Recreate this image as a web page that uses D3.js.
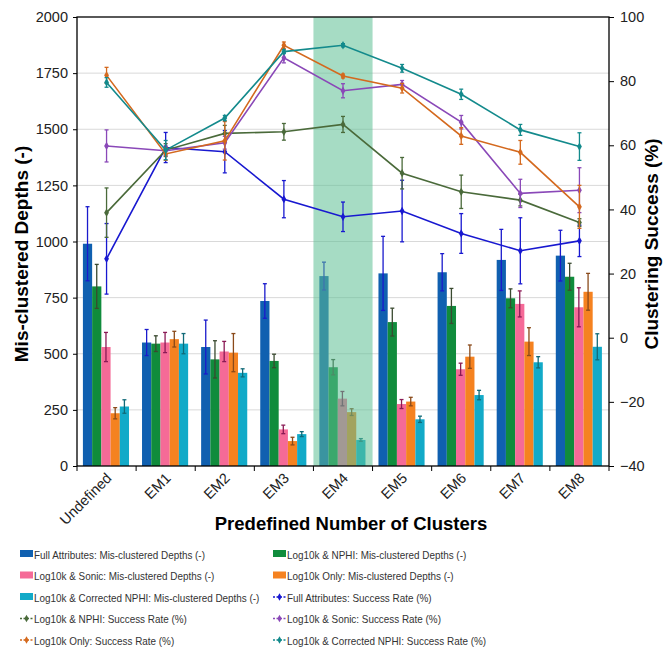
<!DOCTYPE html>
<html lang="en">
<head>
  <meta charset="UTF-8" />
  <script src="https://d3js.org/d3.v7.min.js"></script>
  <title>Clustering</title>
  <style>
    body { margin: 0; background: #fff; }
    text { font-family: "Liberation Sans", Arial, sans-serif; }
  </style>
</head>
<body>
<script type="text/javascript">
	var width = 666; var height = 650;
	var margin = {top: 17, right: 57, bottom: 184, left: 77};

	var categories = ["Undefined", "EM1", "EM2", "EM3", "EM4", "EM5", "EM6", "EM7", "EM8"];
	var leftTicks = [0, 250, 500, 750, 1000, 1250, 1500, 1750, 2000];
	var rightTicks = [-40, -20, 0, 20, 40, 60, 80, 100];
	var highlighted = "EM4";

	// mis-clustered depths (left axis) with error half-widths
	var fullDepths = [990, 550, 530, 735, 846, 858, 863, 918, 937];
	var fullDepthsErr = [165, 58, 120, 77, 62, 165, 83, 136, 113];
	var nphiDepths = [800, 545, 475, 468, 440, 641, 713, 747, 843];
	var nphiDepthsErr = [98, 35, 83, 30, 34, 62, 78, 42, 60];
	var sonicDepths = [530, 550, 510, 163, 300, 276, 431, 722, 707];
	var sonicDepthsErr = [65, 45, 45, 19, 32, 20, 27, 58, 87];
	var onlyDepths = [235, 565, 505, 111, 240, 287, 487, 554, 776];
	var onlyDepthsErr = [25, 35, 85, 17, 15, 19, 52, 62, 82];
	var corrDepths = [265, 545, 415, 142, 116, 208, 316, 462, 531];
	var corrDepthsErr = [30, 45, 18, 11, 6, 14, 21, 25, 58];

	// success rate (right axis, %)
	var fullRate = [24.6, 59.3, 58, 43.2, 37.7, 39.5, 32.5, 27.1, 30.2];
	var fullRateErr = [11, 4.7, 6.6, 5.8, 4.6, 9.6, 6.2, 10.3, 4.9];
	var nphiRate = [39, 58.5, 63.7, 64.2, 66.5, 51.3, 45.5, 42.9, 35.9];
	var nphiRateErr = [7.7, 2, 2.5, 2.6, 2.5, 4.9, 5.2, 1.8, 1.2];
	var sonicRate = [59.8, 58.3, 60.8, 87.3, 77, 79, 67.2, 45, 46];
	var sonicRateErr = [5, 1.5, 2, 1.6, 2.2, 1.2, 2.1, 4.4, 7];
	var onlyRate = [81.8, 57.3, 61.4, 91.2, 81.6, 77.8, 62.9, 57.8, 40.8];
	var onlyRateErr = [2.5, 2, 6, 1, 0.6, 1.5, 2.6, 3.7, 6.7];
	var corrRate = [79.6, 58.5, 68.5, 89.2, 91.2, 84, 75.9, 64.8, 59.6];
	var corrRateErr = [1.5, 3, 0.8, 0.6, 0.5, 1.2, 1.6, 1.7, 4.3];

	var barSeries = [
		{name: "Full Attributes: Mis-clustered Depths (-)", v: fullDepths, e: fullDepthsErr, fill: "#1060b0", err: "#1a1acc"},
		{name: "Log10k & NPHI: Mis-clustered Depths (-)", v: nphiDepths, e: nphiDepthsErr, fill: "#108c3c", err: "#3a4a30"},
		{name: "Log10k & Sonic: Mis-clustered Depths (-)", v: sonicDepths, e: sonicDepthsErr, fill: "#f56a97", err: "#8a1a55"},
		{name: "Log10k Only: Mis-clustered Depths (-)", v: onlyDepths, e: onlyDepthsErr, fill: "#f58220", err: "#8a4a1a"},
		{name: "Log10k & Corrected NPHI: Mis-clustered Depths (-)", v: corrDepths, e: corrDepthsErr, fill: "#12aac8", err: "#106a78"}
	];
	var lineSeries = [
		{name: "Full Attributes: Success Rate (%)", v: fullRate, e: fullRateErr, color: "#1818d0"},
		{name: "Log10k & NPHI: Success Rate (%)", v: nphiRate, e: nphiRateErr, color: "#4a6a3a"},
		{name: "Log10k & Sonic: Success Rate (%)", v: sonicRate, e: sonicRateErr, color: "#8a48b8"},
		{name: "Log10k Only: Success Rate (%)", v: onlyRate, e: onlyRateErr, color: "#d4691e"},
		{name: "Log10k & Corrected NPHI: Success Rate (%)", v: corrRate, e: corrRateErr, color: "#138a8c"}
	];

	var svg = d3.select("body").append("svg").attr("width", width).attr("height", height);
	var pw = width - margin.left - margin.right;
	var ph = height - margin.top - margin.bottom;
	var g = svg.append("g").attr("transform", "translate(" + margin.left + "," + margin.top + ")");

	var x = d3.scaleBand().domain(categories).range([0, pw]).paddingInner(0).paddingOuter(0);
	var xb = d3.scaleBand().domain(d3.range(barSeries.length)).range([x.bandwidth() * 0.1, x.bandwidth() * 0.88]);
	var yL = d3.scaleLinear().domain([0, 2000]).range([ph, 0]);
	var yR = d3.scaleLinear().domain([-40, 100]).range([ph, 0]);

	// gridlines
	g.append("g").selectAll("line").data(leftTicks.slice(1, -1)).enter().append("line")
		.attr("x1", 0).attr("x2", pw).attr("y1", yL).attr("y2", yL)
		.attr("stroke", "#d9d9d9").attr("stroke-width", 1);

	// bars
	barSeries.forEach(function(s, si) {
		var bg = g.append("g");
		bg.selectAll("rect").data(s.v).enter().append("rect")
			.attr("x", function(d, i){ return x(categories[i]) + xb(si); })
			.attr("y", function(d){ return yL(d); })
			.attr("width", xb.bandwidth())
			.attr("height", function(d){ return ph - yL(d); })
			.attr("fill", s.fill);
		s.v.forEach(function(d, i) {
			var cx = x(categories[i]) + xb(si) + xb.bandwidth() / 2;
			var y1 = yL(d + s.e[i]), y2 = yL(d - s.e[i]);
			bg.append("line").attr("x1", cx).attr("x2", cx).attr("y1", y1).attr("y2", y2).attr("stroke", s.err).attr("stroke-width", 1.3);
			[y1, y2].forEach(function(yy) {
				bg.append("line").attr("x1", cx - 2).attr("x2", cx + 2).attr("y1", yy).attr("y2", yy).attr("stroke", s.err).attr("stroke-width", 1.3);
			});
		});
	});

	// highlight band
	g.append("rect").attr("x", x(highlighted)).attr("y", 0).attr("width", x.bandwidth()).attr("height", ph)
		.attr("fill", "#5dbf93").attr("opacity", 0.55);

	// lines
	var line = d3.line().x(function(d, i){ return x(categories[i]) + x.bandwidth() / 2; }).y(function(d){ return yR(d); });
	lineSeries.forEach(function(s) {
		var lg = g.append("g");
		lg.append("path").datum(s.v).attr("d", line).attr("fill", "none").attr("stroke", s.color).attr("stroke-width", 1.6);
		s.v.forEach(function(d, i) {
			var cx = x(categories[i]) + x.bandwidth() / 2;
			var y1 = yR(d + s.e[i]), y2 = yR(d - s.e[i]);
			lg.append("line").attr("x1", cx).attr("x2", cx).attr("y1", y1).attr("y2", y2).attr("stroke", s.color).attr("stroke-width", 1.3);
			[y1, y2].forEach(function(yy) {
				lg.append("line").attr("x1", cx - 2).attr("x2", cx + 2).attr("y1", yy).attr("y2", yy).attr("stroke", s.color).attr("stroke-width", 1.3);
			});
		});
		lg.selectAll("path.pt").data(s.v).enter().append("path").attr("class", "pt")
			.attr("d", d3.symbol().type(d3.symbolDiamond).size(20))
			.attr("transform", function(d, i){ return "translate(" + (x(categories[i]) + x.bandwidth() / 2) + "," + yR(d) + ")"; })
			.attr("fill", s.color);
	});

	// frame
	g.append("rect").attr("x", 0).attr("y", 0).attr("width", pw).attr("height", ph)
		.attr("fill", "none").attr("stroke", "#000").attr("stroke-width", 1.3);

	// axes
	var axL = g.append("g").call(d3.axisLeft(yL).tickValues(leftTicks).tickFormat(d3.format("d")).tickSize(4).tickPadding(5));
	var axR = g.append("g").attr("transform", "translate(" + pw + ",0)").call(d3.axisRight(yR).tickValues(rightTicks).tickFormat(d3.format("d")).tickSize(5).tickPadding(6));
	[axL, axR].forEach(function(a) {
		a.select(".domain").remove();
		a.selectAll("text").attr("font-size", 14.5).attr("fill", "#222").style("font-family", "Liberation Sans, Arial, sans-serif");
	});

	var axX = g.append("g").attr("transform", "translate(0," + ph + ")");
	axX.selectAll("line").data(d3.range(categories.length + 1)).enter().append("line")
		.attr("x1", function(i){ return i * x.step(); }).attr("x2", function(i){ return i * x.step(); })
		.attr("y1", 0).attr("y2", 5).attr("stroke", "#000");
	axX.selectAll("text").data(categories).enter().append("text")
		.attr("transform", function(d){ return "translate(" + (x(d) + x.bandwidth() / 2 + 6) + ",13) rotate(-45)"; })
		.attr("text-anchor", "end").attr("font-size", 14.5).attr("fill", "#222").text(function(d){ return d; });

	// titles
	svg.append("text").attr("transform", "translate(28,254) rotate(-90)")
		.attr("text-anchor", "middle").attr("font-size", 19).attr("font-weight", "bold").text("Mis-clustered Depths (-)");
	svg.append("text").attr("transform", "translate(658,244) rotate(-90)")
		.attr("text-anchor", "middle").attr("font-size", 19).attr("font-weight", "bold").text("Clustering Success (%)");
	svg.append("text").attr("x", 351).attr("y", 530)
		.attr("text-anchor", "middle").attr("font-size", 18.5).attr("font-weight", "bold").text("Predefined Number of Clusters");

	// legend
	var legendItems = [];
	barSeries.forEach(function(s){ legendItems.push({name: s.name, type: "bar", color: s.fill}); });
	lineSeries.forEach(function(s){ legendItems.push({name: s.name, type: "line", color: s.color}); });
	var lg = svg.append("g");
	legendItems.forEach(function(it, i) {
		var lx = (i % 2 === 0) ? 20 : 273;
		var ly = 554 + Math.floor(i / 2) * 21.5;
		if (it.type === "bar") {
			lg.append("rect").attr("x", lx).attr("y", ly - 4).attr("width", 13).attr("height", 7).attr("fill", it.color);
		} else {
			lg.append("line").attr("x1", lx).attr("x2", lx + 13).attr("y1", ly).attr("y2", ly).attr("stroke", it.color).attr("stroke-width", 1.5).attr("stroke-dasharray", "2,1.5");
			lg.append("path").attr("d", d3.symbol().type(d3.symbolDiamond).size(16)).attr("transform", "translate(" + (lx + 6.5) + "," + ly + ")").attr("fill", it.color);
		}
		lg.append("text").attr("transform", "translate(" + (lx + 14) + "," + (ly + 4.5) + ") scale(0.84,1)")
			.attr("font-size", 11.8).attr("fill", "#333").text(it.name);
	});
</script>
</body>
</html>
